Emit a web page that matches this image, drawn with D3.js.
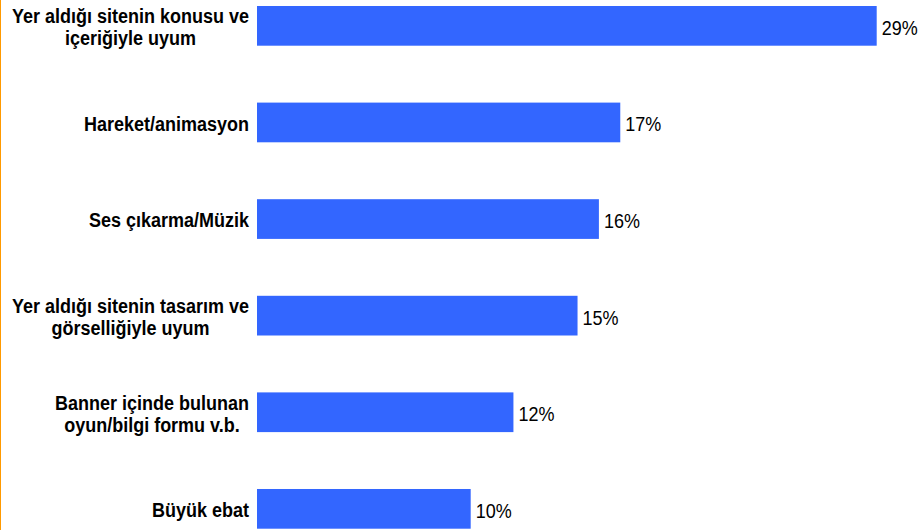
<!DOCTYPE html>
<html>
<head>
<meta charset="utf-8">
<script src="https://cdn.jsdelivr.net/npm/d3@7"></script>
<style>
  html, body { margin: 0; padding: 0; background: #fff; }
  svg { display: block; }
</style>
</head>
<body>
<div id="chart"></div>
<script>
const categories = [
  ["Yer aldığı sitenin konusu ve", "içeriğiyle uyum"],
  ["Hareket/animasyon"],
  ["Ses çıkarma/Müzik"],
  ["Yer aldığı sitenin tasarım ve", "görselliğiyle uyum"],
  ["Banner içinde bulunan", "oyun/bilgi formu v.b."],
  ["Büyük ebat"]
];
const values = [29, 17, 16, 15, 12, 10];
const valueLabels = ["29%", "17%", "16%", "15%", "12%", "10%"];

const W = 919, H = 530;
const barLeft = 257;
const sy = 1.17; // vertical stretch of glyphs as in the reference
const svg = d3.select("#chart").append("svg").attr("width", W).attr("height", H);

svg.append("line").attr("x1", 0.5).attr("x2", 0.5).attr("y1", 0).attr("y2", H)
  .attr("stroke", "#FF9900").attr("stroke-width", 1);

const ids = categories.map((c, i) => i);
const y = d3.scaleBand().domain(ids).range([6, 528.7]).paddingInner(0.589).paddingOuter(0);
const x = d3.scaleLinear().domain([0, 29]).range([barLeft, 876.7]);

svg.selectAll("rect.bar").data(values).enter().append("rect")
  .attr("class", "bar")
  .attr("x", x(0))
  .attr("y", (d, i) => y(i))
  .attr("width", d => x(d) - x(0))
  .attr("height", y.bandwidth())
  .attr("fill", "#3366FF");

svg.selectAll("text.val").data(values).enter().append("text")
  .attr("class", "val")
  .attr("transform", (d, i) => `translate(${x(d) + 5},${y(i) + y.bandwidth() / 2 + 1.5}) scale(1,${sy})`)
  .attr("dy", "0.35em")
  .attr("font-family", "Liberation Sans, Arial, sans-serif")
  .attr("font-size", "18px")
  .attr("fill", "#000")
  .text((d, i) => valueLabels[i]);

const lineH = 22;
categories.forEach((lines, i) => {
  const cy = y(i) + y.bandwidth() / 2 + 1;
  const g = svg.append("g");
  const texts = lines.map((ln, j) => g.append("text")
    .attr("dy", "0.35em")
    .attr("font-family", "Liberation Sans, Arial, sans-serif")
    .attr("font-weight", "bold")
    .attr("font-size", "18px")
    .attr("fill", "#000")
    .attr("text-anchor", "middle")
    .text(ln));
  const maxW = d3.max(texts, t => t.node().getComputedTextLength());
  texts.forEach((t, j) => t.attr("transform",
    `translate(${249 - maxW / 2},${cy + (j - (lines.length - 1) / 2) * lineH}) scale(1,${sy})`));
});
</script>
</body>
</html>
